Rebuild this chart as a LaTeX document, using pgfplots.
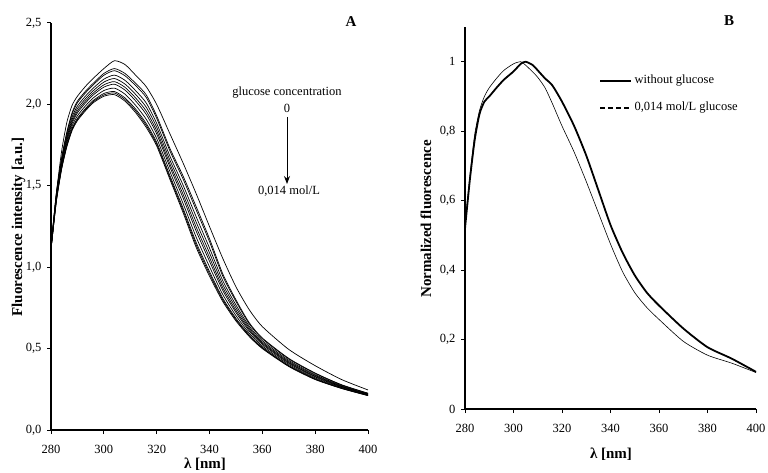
\documentclass[border=0pt]{standalone}
\usepackage{fontspec}
\setmainfont{Liberation Serif}
\usepackage{pgfplots}
\usepackage{pgfplotstable}
\pgfplotsset{compat=1.18}
\usetikzlibrary{arrows.meta}

% panel A: emission spectra, glucose 0 ... 0.014 mol/L
\pgfplotstableread{
nm  L     a     b     c     d     e     f     g     h     U     T
280 1.110 1.111 1.111 1.113 1.114 1.115 1.116 1.118 1.119 1.120 1.130
282 1.400 1.403 1.406 1.413 1.420 1.425 1.431 1.438 1.446 1.450 1.450
284 1.600 1.604 1.608 1.618 1.628 1.635 1.643 1.653 1.664 1.670 1.710
286 1.740 1.745 1.751 1.763 1.776 1.785 1.796 1.808 1.823 1.830 1.890
288 1.840 1.847 1.853 1.868 1.884 1.895 1.908 1.923 1.941 1.950 1.995
290 1.900 1.907 1.914 1.930 1.948 1.960 1.974 1.990 2.010 2.020 2.050
293 1.960 1.967 1.974 1.990 2.008 2.020 2.034 2.050 2.070 2.080 2.110
296 2.010 2.017 2.024 2.040 2.058 2.070 2.084 2.100 2.120 2.130 2.160
300 2.050 2.058 2.067 2.085 2.106 2.120 2.137 2.155 2.179 2.190 2.220
304 2.060 2.070 2.079 2.100 2.124 2.140 2.159 2.180 2.207 2.220 2.268
308 2.020 2.030 2.040 2.063 2.088 2.105 2.125 2.148 2.176 2.190 2.245
312 1.950 1.961 1.972 1.995 2.022 2.040 2.062 2.085 2.116 2.130 2.180
316 1.860 1.872 1.884 1.910 1.940 1.960 1.984 2.010 2.044 2.060 2.110
320 1.745 1.756 1.767 1.791 1.819 1.838 1.860 1.884 1.915 1.930 2.000
325 1.540 1.551 1.563 1.588 1.616 1.635 1.658 1.683 1.715 1.730 1.820
330 1.335 1.349 1.362 1.391 1.425 1.448 1.475 1.504 1.542 1.560 1.640
335 1.120 1.135 1.150 1.183 1.220 1.245 1.275 1.308 1.350 1.370 1.450
340 0.945 0.959 0.973 1.003 1.037 1.060 1.088 1.118 1.157 1.175 1.250
345 0.790 0.800 0.810 0.833 0.858 0.875 0.895 0.918 0.946 0.960 1.055
350 0.670 0.678 0.686 0.703 0.722 0.735 0.751 0.768 0.790 0.800 0.880
355 0.575 0.580 0.585 0.596 0.609 0.618 0.628 0.639 0.653 0.660 0.740
360 0.500 0.504 0.508 0.516 0.526 0.533 0.540 0.549 0.560 0.565 0.635
370 0.390 0.393 0.396 0.403 0.410 0.415 0.421 0.428 0.436 0.440 0.495
380 0.310 0.312 0.315 0.320 0.326 0.330 0.335 0.340 0.347 0.350 0.395
390 0.255 0.256 0.258 0.261 0.264 0.267 0.269 0.272 0.276 0.278 0.310
400 0.211 0.212 0.213 0.215 0.217 0.219 0.220 0.222 0.225 0.226 0.246
}\specA

% panel B: normalized spectra
\pgfplotstableread{
nm  thick thin
280 0.520 0.530
282 0.660 0.670
284 0.775 0.790
286 0.850 0.860
288 0.885 0.900
290 0.900 0.925
293 0.925 0.952
296 0.948 0.975
300 0.972 0.994
303 0.994 1.000
305 1.000 0.990
308 0.990 0.970
310 0.975 0.955
313 0.952 0.925
316 0.932 0.880
320 0.885 0.815
325 0.815 0.740
330 0.730 0.655
335 0.630 0.565
340 0.530 0.475
345 0.450 0.395
350 0.385 0.335
355 0.335 0.292
360 0.298 0.258
370 0.232 0.195
380 0.178 0.155
390 0.145 0.132
400 0.107 0.105
}\specB

\newcommand{\tickfont}{\fontsize{12.5}{14}\selectfont}
\newcommand{\labfont}{\fontsize{15}{17}\selectfont\bfseries}

\pgfplotsset{
  panel/.style={
    scale only axis,
    anchor=south west,
    xmin=280, xmax=400,
    xtick={280,300,...,400},
    axis lines=left,
    axis line style={line width=1.5pt,-},
    tick align=outside,
    major tick length=4pt,
    tick style={line width=1pt,black},
    tick label style={font=\tickfont},
    xticklabel style={yshift=-8pt},
    yticklabel style={xshift=-2pt},
    /pgf/number format/assume math mode=true,
    /pgf/number format/1000 sep={},
    clip=false,
  },
}

\begin{document}
\begin{tikzpicture}[x=1pt,y=1pt]
\path[use as bounding box] (0,0) rectangle (768,472);

\begin{axis}[panel, at={(51pt,42pt)}, width=317pt, height=407pt,
    ymin=0, ymax=2.5, ytick={0,0.5,...,2.5},
    yticklabel style={/pgf/number format/.cd,fixed,fixed zerofill,precision=1,use comma}]
  \foreach \c in {L,a,b,c,d,e,f,g,h,U,T} {
    \addplot[black, no marks, line width=0.7pt, smooth, tension=0.4] table[x=nm, y=\c] {\specA};
  }
\end{axis}

\begin{axis}[panel, at={(465pt,63pt)}, width=291pt, height=382pt,
    ymin=0, ymax=1.1, ytick={0,0.2,...,1},
    yticklabel style={/pgf/number format/.cd,fixed,precision=1,use comma}]
  \addplot[black, no marks, line width=0.6pt, smooth, tension=0.4] table[x=nm, y=thin] {\specB};
  \addplot[black, no marks, line width=1.8pt, smooth, tension=0.4] table[x=nm, y=thick] {\specB};
\end{axis}

% axis titles
\node[rotate=90, font=\labfont] at (18.5,245) {Fluorescence intensity [a.u.]};
\node[font=\labfont] at (205,8) {λ [nm]};
\node[rotate=90, font=\labfont] at (426,253) {Normalized fluorescence};
\node[font=\labfont] at (611,18) {λ [nm]};
\node[font=\labfont] at (351,450) {A};
\node[font=\labfont] at (729,451) {B};

% annotation in A
\node[font=\tickfont] at (287,379) {glucose concentration};
\node[font=\tickfont] at (287,364) {0};
\draw[line width=0.8pt, -{Stealth[length=8pt,width=6pt]}] (287,355) -- (287,288);
\node[font=\tickfont] at (289,281) {0,014 mol/L};

% legend in B
\draw[line width=1.8pt] (600,391) -- (631,391);
\node[font=\tickfont, anchor=west] at (631,391) {without glucose};
\draw[line width=1.2pt, dash pattern=on 5pt off 3pt] (600,364) -- (631,364);
\node[font=\tickfont, anchor=west] at (631,364) {0,014 mol/L glucose};
\end{tikzpicture}
\end{document}
